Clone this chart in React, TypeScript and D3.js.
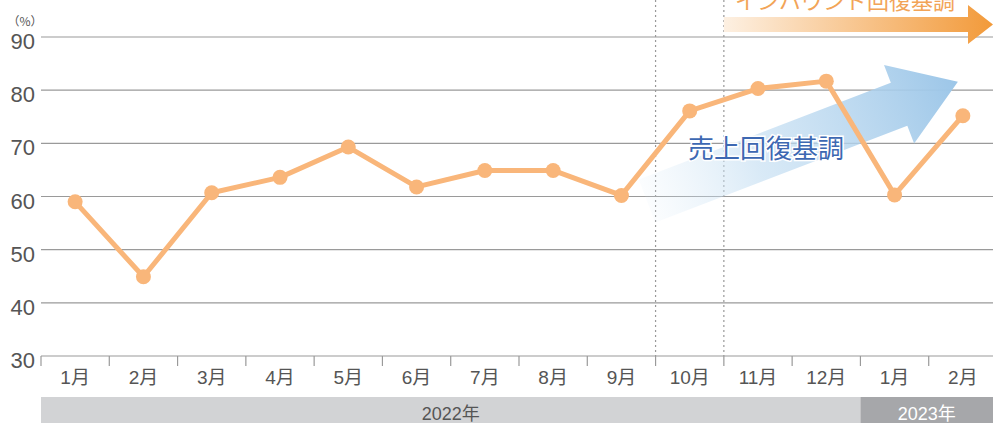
import * as d3 from 'd3'

const MONTHS = ['1月', '2月', '3月', '4月', '5月', '6月', '7月', '8月', '9月', '10月', '11月', '12月', '1月', '2月']
const VALUES = [59.0, 44.9, 60.7, 63.6, 69.3, 61.8, 64.9, 64.9, 60.2, 76.1, 80.3, 81.7, 60.3, 75.2]
const Y_TICKS = [30, 40, 50, 60, 70, 80, 90]
const YEARS = [
  { label: '2022年', from: 0, to: 12 },
  { label: '2023年', from: 12, to: 14 },
]
// band boundaries marked with dotted lines (between 9月/10月 and 10月/11月)
const MARKERS = [9, 10]

const W = 993
const H = 423
const LEFT = 41
const RIGHT = 997
const Y_TOP = 37
const Y_BOT = 356

const FONT = '"Liberation Sans", Arial, "Noto Sans CJK JP", sans-serif'
const JP = '"Noto Sans CJK JP", "Liberation Sans", sans-serif'
const LINE = '#f9b67a'

export default function App() {
  const x = d3.scaleBand<number>().domain(d3.range(MONTHS.length)).range([LEFT, RIGHT]).padding(0)
  const y = d3.scaleLinear().domain([30, 90]).range([Y_BOT, Y_TOP])
  const bw = x.bandwidth()
  const cx = (i: number) => (x(i) ?? 0) + bw / 2
  const edge = (i: number) => LEFT + i * bw

  const linePath = d3.line<number>().x((_, i) => cx(i)).y(d => y(d))(VALUES) || ''

  // blue arrow (sales recovery trend), built in local coords then rotated
  const blueAng = -21
  const bx0 = 647, by0 = 201
  const shaftL = 270, shaftW = 46, headL = 63, headW = 84
  const bluePts = [
    [0, -shaftW / 2], [shaftL, -shaftW / 2], [shaftL, -headW / 2],
    [shaftL + headL, 0], [shaftL, headW / 2], [shaftL, shaftW / 2], [0, shaftW / 2],
  ].map(p => p.join(',')).join(' ')

  // orange arrow (inbound recovery)
  const ox0 = edge(10), ox1 = 968, oTop = 17, oBot = 32
  const orangePts = [
    [ox0, oTop], [ox1, oTop], [ox1, 5], [993, 24.5], [ox1, 44], [ox1, oBot], [ox0, oBot],
  ].map(p => p.join(',')).join(' ')

  return (
    <svg width={W} height={H} style={{ position: 'absolute', left: 0, top: 0, display: 'block' }}>
      <defs>
        <linearGradient id="blue-grad" x1="0" y1="0" x2="1" y2="0">
          <stop offset="0%" stopColor="#d6e8f6" stopOpacity={0.1} />
          <stop offset="35%" stopColor="#c4def2" stopOpacity={0.65} />
          <stop offset="100%" stopColor="#9cc6e8" stopOpacity={1} />
        </linearGradient>
        <linearGradient id="orange-grad" gradientUnits="userSpaceOnUse" x1={ox0} y1="0" x2={993} y2="0">
          <stop offset="0%" stopColor="#fdf0e2" />
          <stop offset="100%" stopColor="#f29a3a" />
        </linearGradient>
      </defs>

      {/* grid */}
      {Y_TICKS.map(t => (
        <g key={t}>
          <line x1={LEFT} x2={W} y1={y(t)} y2={y(t)} stroke="#9a9a9a" strokeWidth={1.2} />
          <text x={35} y={y(t) + 12} textAnchor="end" fontSize={22} fontFamily={FONT} fill="#555">{t}</text>
        </g>
      ))}
      <text x={25} y={26} textAnchor="middle" fontSize={12} fontFamily={JP} fill="#555">（%）</text>

      {/* dotted markers */}
      {MARKERS.map(m => (
        <line key={m} x1={edge(m)} x2={edge(m)} y1={0} y2={Y_BOT}
          stroke="#999" strokeWidth={1.2} strokeDasharray="2,3" />
      ))}

      {/* x ticks */}
      {d3.range(MONTHS.length + 1).map(i => (
        <line key={i} x1={edge(i)} x2={edge(i)} y1={Y_BOT} y2={366} stroke="#9a9a9a" strokeWidth={1.2} />
      ))}
      {MONTHS.map((m, i) => (
        <text key={i} x={cx(i)} y={384} textAnchor="middle" fontSize={19} fontFamily={FONT} fill="#555">{m}</text>
      ))}

      {/* year bands */}
      {YEARS.map((yr, i) => (
        <g key={yr.label}>
          <rect x={edge(yr.from)} y={397} width={edge(yr.to) - edge(yr.from)} height={H - 397}
            fill={i === 0 ? '#d2d3d5' : '#a6a7aa'} />
          <text x={(edge(yr.from) + Math.min(edge(yr.to), W)) / 2} y={420} textAnchor="middle"
            fontSize={18} fontFamily={FONT} fill={i === 0 ? '#555' : '#fff'}>{yr.label}</text>
        </g>
      ))}

      {/* blue trend arrow */}
      <polygon points={bluePts} fill="url(#blue-grad)"
        transform={`translate(${bx0},${by0}) rotate(${blueAng})`} />

      {/* orange arrow + label */}
      <polygon points={orangePts} fill="url(#orange-grad)" />
      <text x={845} y={9} textAnchor="middle" fontSize={22} fontFamily={JP} fill="#f2a457">インバウンド回復基調</text>

      {/* series */}
      <path d={linePath} fill="none" stroke={LINE} strokeWidth={5} strokeLinejoin="round" />
      {VALUES.map((v, i) => (
        <circle key={i} cx={cx(i)} cy={y(v)} r={7.5} fill={LINE} />
      ))}

      <text x={766} y={158} textAnchor="middle" fontSize={26} fontFamily={JP} fill="#3d68b2"
        stroke="#fff" strokeWidth={3} paintOrder="stroke">売上回復基調</text>
    </svg>
  )
}
